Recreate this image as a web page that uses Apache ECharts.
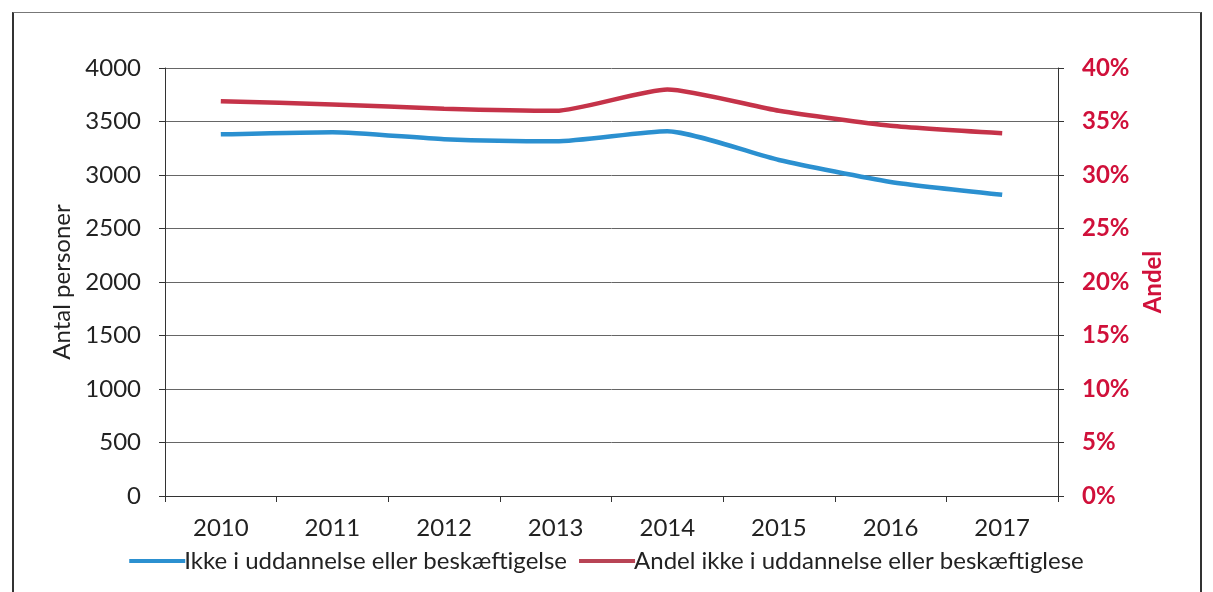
<!DOCTYPE html>
<html>
<head>
<meta charset="utf-8">
<script src="https://cdn.jsdelivr.net/npm/echarts@6/dist/echarts.min.js"></script>
<style>
  html, body { margin: 0; padding: 0; background: #fff; }
  #frame { position: absolute; left: 12px; top: 12px; width: 1186px; height: 600px;
           border-left: 2px solid #333; border-top: 1px solid #777; border-right: 2px solid #333; }
  #chart { position: absolute; left: 0; top: 0; width: 1213px; height: 592px; }
</style>
</head>
<body>
<div id="frame"></div>
<div id="chart"></div>
<script>
  var years = ['2010', '2011', '2012', '2013', '2014', '2015', '2016', '2017'];
  var antal = [3380, 3400, 3335, 3315, 3410, 3140, 2935, 2815];
  var andel = [36.9, 36.6, 36.2, 36.0, 38.0, 36.0, 34.6, 33.9];
  var seriesNames = ['Ikke i uddannelse eller beskæftigelse', 'Andel ikke i uddannelse eller beskæftiglese'];

  var font = 'Lato, "Open Sans", sans-serif';
  var red = '#d0103a';
  var chart = echarts.init(document.getElementById('chart'));
  chart.setOption({
    animation: false,
    textStyle: { fontFamily: font },
    grid: { left: 165, right: 155, top: 68, bottom: 96 },
    legend: {
      bottom: 14,
      left: 'center',
      itemWidth: 56,
      itemHeight: 4,
      itemGap: 12,
      icon: 'rect',
      textStyle: { fontSize: 24, color: '#222', fontFamily: font, padding: [0, 0, 0, -6] },
      data: seriesNames
    },
    xAxis: {
      type: 'category',
      data: years,
      boundaryGap: true,
      axisLine: { lineStyle: { color: '#333', width: 1 } },
      axisTick: { show: true, length: 6, lineStyle: { color: '#333' } },
      axisLabel: { fontSize: 24, color: '#222', margin: 20 }
    },
    yAxis: [{
      type: 'value',
      min: 0, max: 4000, interval: 500,
      name: 'Antal personer',
      nameLocation: 'middle',
      nameGap: 85,
      nameRotate: 90,
      nameTextStyle: { fontSize: 24, color: '#222' },
      axisLine: { show: true, lineStyle: { color: '#333' } },
      axisTick: { show: true, length: 6, lineStyle: { color: '#333' } },
      axisLabel: { fontSize: 24, color: '#222', margin: 24, formatter: function (v) { return String(v); } },
      splitLine: { lineStyle: { color: '#666', width: 1 } }
    }, {
      type: 'value',
      min: 0, max: 40, interval: 5,
      name: 'Andel',
      nameLocation: 'middle',
      nameGap: 83,
      nameRotate: 90,
      nameTextStyle: { fontSize: 24, color: red, fontWeight: 'bold' },
      axisLine: { show: true, lineStyle: { color: '#333' } },
      axisTick: { show: true, length: 6, lineStyle: { color: '#333' } },
      axisLabel: { fontSize: 24, color: red, fontWeight: 'bold', margin: 24, formatter: '{value}%' },
      splitLine: { show: false }
    }],
    series: [{
      name: seriesNames[0],
      type: 'line',
      yAxisIndex: 0,
      data: antal,
      symbol: 'none',
      smooth: 0.2,
      lineStyle: { width: 4.5, color: '#2b90d0' },
      itemStyle: { color: '#2b90d0' }
    }, {
      name: seriesNames[1],
      type: 'line',
      yAxisIndex: 1,
      data: andel,
      symbol: 'none',
      smooth: 0.2,
      lineStyle: { width: 4.5, color: '#c53349' },
      itemStyle: { color: '#b84455' }
    }]
  });
</script>
</body>
</html>
